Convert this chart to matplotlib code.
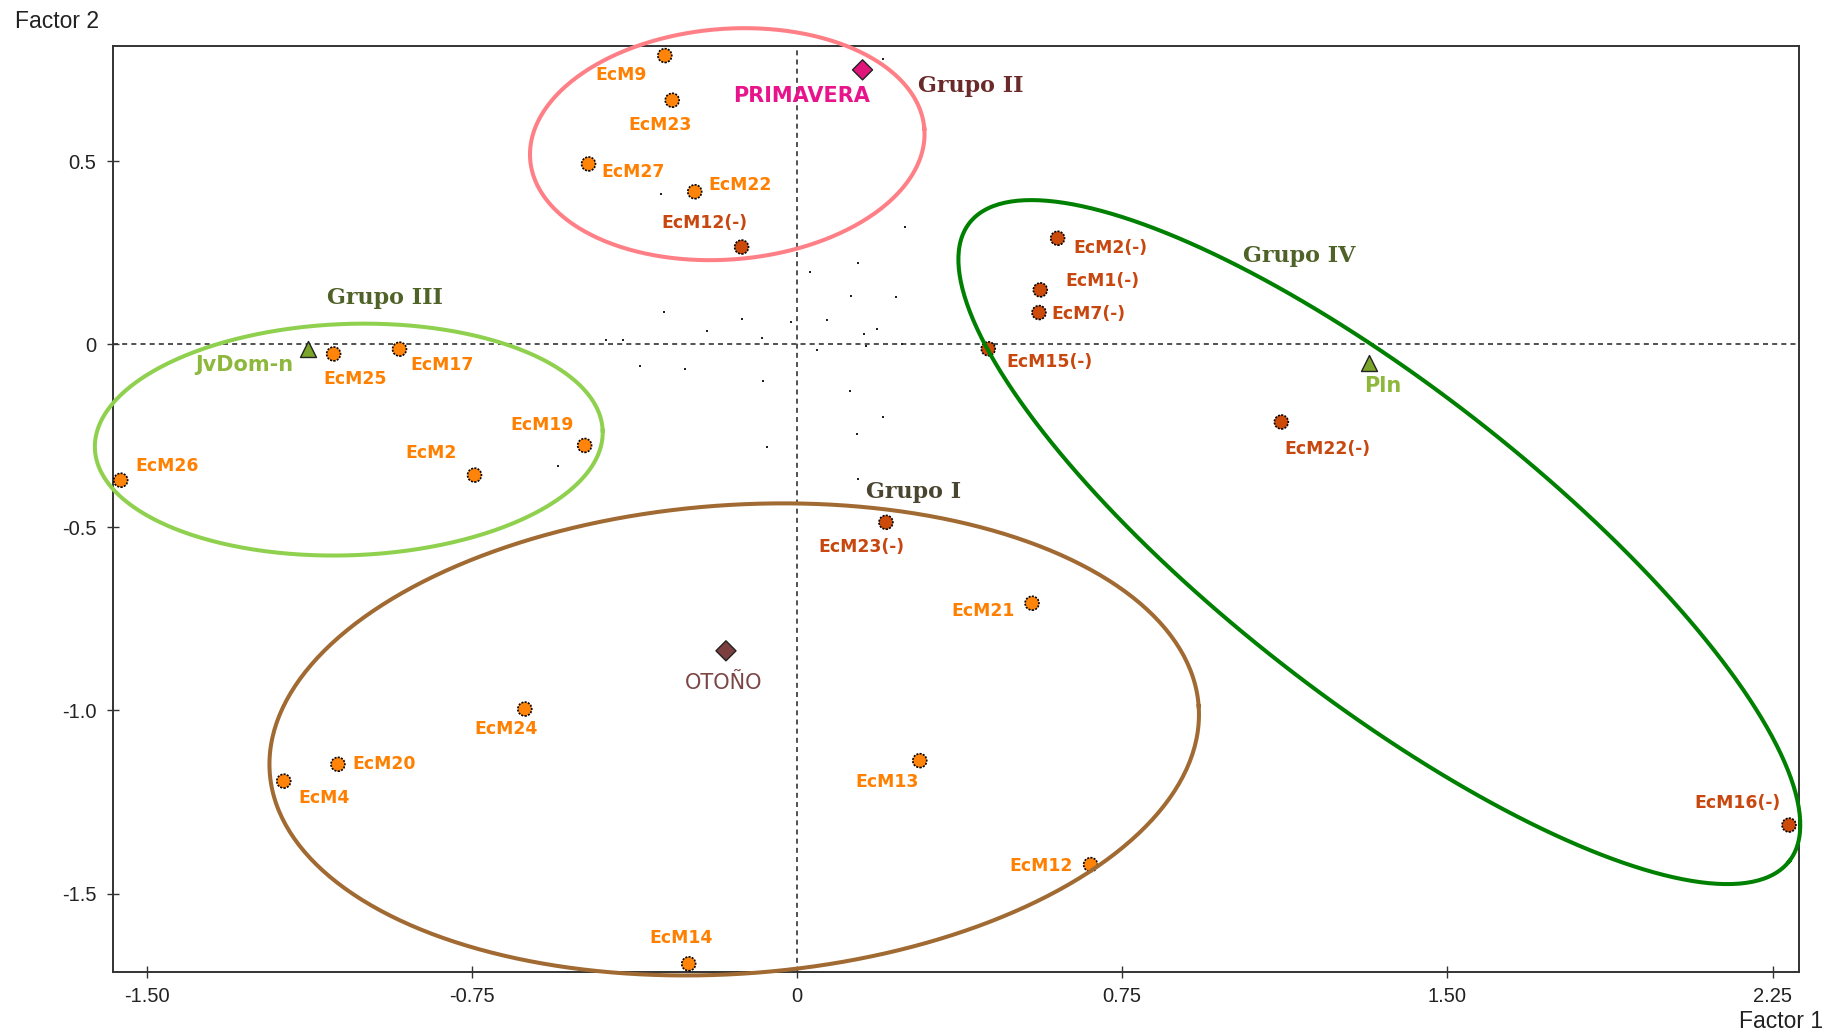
import matplotlib
matplotlib.use('Agg')
import matplotlib.pyplot as plt
import numpy as np

# EcM morphotypes: scores on factor 1 / factor 2
ecm_names = ['EcM9', 'EcM23', 'EcM27', 'EcM22', 'EcM12(-)',
             'EcM2(-)', 'EcM1(-)', 'EcM7(-)', 'EcM15(-)', 'EcM22(-)', 'EcM16(-)',
             'EcM25', 'EcM17', 'EcM19', 'EcM2', 'EcM26',
             'EcM23(-)', 'EcM21', 'EcM24', 'EcM20', 'EcM4', 'EcM13', 'EcM12', 'EcM14']
ecm_f1 = [-0.305, -0.288, -0.481, -0.236, -0.128,
          0.601, 0.561, 0.558, 0.441, 1.117, 2.288,
          -1.069, -0.917, -0.490, -0.744, -1.560,
          0.205, 0.542, -0.628, -1.059, -1.184, 0.283, 0.677, -0.250]
ecm_f2 = [0.789, 0.667, 0.493, 0.417, 0.266,
          0.290, 0.149, 0.087, -0.012, -0.212, -1.313,
          -0.026, -0.013, -0.276, -0.357, -0.371,
          -0.486, -0.707, -0.996, -1.147, -1.193, -1.137, -1.421, -1.692]

# seasons (supplementary points)
season_names = ['PRIMAVERA', 'OTOÑO']
season_f1 = [0.151, -0.164]
season_f2 = [0.750, -0.837]

# habitat types (supplementary points)
habitat_names = ['JvDom-n', 'Pln']
habitat_f1 = [-1.127, 1.320]
habitat_f2 = [-0.013, -0.051]

# unlabelled variables shown as small dots
dot_f1 = [-0.314, 0.250, 0.141, 0.030, 0.125, 0.228, -0.307, -0.126, -0.013, 0.068,
          -0.207, 0.185, 0.155, -0.082, -0.441, -0.401, 0.159, 0.242, 0.047, -0.363,
          -0.259, -0.078, 0.121, 0.198, 0.138, -0.069, -0.552, 0.141, 0.199]
dot_f2 = [0.410, 0.320, 0.222, 0.197, 0.132, 0.130, 0.089, 0.070, 0.061, 0.066,
          0.037, 0.042, 0.028, 0.018, 0.013, 0.013, -0.004, 0.002, -0.015, -0.058,
          -0.067, -0.100, -0.128, -0.199, -0.246, -0.279, -0.331, -0.368, 0.779]

xticks = [-1.5, -0.75, 0, 0.75, 1.5, 2.25]
xtick_labels = ['-1.50', '-0.75', '0', '0.75', '1.50', '2.25']
yticks = [-1.5, -1.0, -0.5, 0, 0.5]
ytick_labels = ['-1.5', '-1.0', '-0.5', '0', '0.5']

# label offsets in pixels (dx, dy) from each point
label_offsets = {
    'EcM9': (-44, -19), 'EcM23': (-12, -25), 'EcM27': (45, -8), 'EcM22': (45, 7),
    'EcM12(-)': (-37, 24), 'EcM2(-)': (53, -10), 'EcM1(-)': (62, 9), 'EcM7(-)': (49, -1),
    'EcM15(-)': (61, -13), 'EcM22(-)': (46, -27), 'EcM16(-)': (-52, 22),
    'EcM25': (22, -25), 'EcM17': (43, -16), 'EcM19': (-43, 20), 'EcM2': (-43, 22),
    'EcM26': (46, 14), 'EcM23(-)': (-25, -25), 'EcM21': (-49, -8), 'EcM24': (-19, -20),
    'EcM20': (46, 0), 'EcM4': (40, -17), 'EcM13': (-33, -21), 'EcM12': (-50, -1),
    'EcM14': (-8, 26),
    'PRIMAVERA': (-61, -26), 'OTOÑO': (-2, -32),
    'JvDom-n': (-64, -16), 'Pln': (13, -23),
}

# group ellipses: centre (f1, f2), semi-axes in factor-2 units, angle in degrees
groups = {
    'Grupo I':   dict(center=(-0.145, -1.079), a=1.272, b=0.640, angle=4.1,
                      color='#A06A32', text=(0.269, -0.402), tcolor='#4A4530'),
    'Grupo II':  dict(center=(-0.161, 0.547), a=0.540, b=0.315, angle=4.5,
                      color='#FF7F86', text=(0.400, 0.706), tcolor='#6B2A2A'),
    'Grupo III': dict(center=(-1.034, -0.260), a=0.694, b=0.316, angle=2.0,
                      color='#8FD14F', text=(-0.951, 0.126), tcolor='#4F6228'),
    'Grupo IV':  dict(center=(1.343, -0.540), a=1.419, b=0.426, angle=-37.9,
                      color='#008000', text=(1.158, 0.241), tcolor='#4F6228'),
}

W, H, DPI = 1827, 1034, 100
fig = plt.figure(figsize=(W / DPI, H / DPI), dpi=DPI)
ax = fig.add_axes([112.5 / W, 1 - 971.5 / H, (1799 - 112.5) / W, (971.5 - 45.7) / H])
ax.set_xlim(-1.579, 2.311)
ax.set_ylim(-1.713, 0.816)

for s in ax.spines.values():
    s.set_color('#333333')
    s.set_linewidth(1.4)

ax.set_xticks(xticks)
ax.set_xticklabels(xtick_labels)
ax.set_yticks(yticks)
ax.set_yticklabels(ytick_labels)
ax.tick_params(direction='inout', length=9, width=1.0, color='#333333', pad=7,
               labelsize=14.5, labelcolor='#222222')
for lbl in ax.get_xticklabels() + ax.get_yticklabels():
    lbl.set_fontfamily('Liberation Sans')

ax.axhline(0, color='#333333', lw=1.2, ls=(0, (3, 2.5)), zorder=1)
ax.axvline(0, color='#333333', lw=1.2, ls=(0, (3, 2.5)), zorder=1)

# aspect ratio between axes (pixels per unit) so ellipses are drawn in screen space
fig.canvas.draw()
bb = ax.get_window_extent()
kx = bb.width / (ax.get_xlim()[1] - ax.get_xlim()[0])
ky = bb.height / (ax.get_ylim()[1] - ax.get_ylim()[0])
ratio = ky / kx

t = np.linspace(0, 2 * np.pi, 400)
for name, g in groups.items():
    th = np.radians(g['angle'])
    u = g['a'] * np.cos(t)
    v = g['b'] * np.sin(t)
    ex = g['center'][0] + (u * np.cos(th) - v * np.sin(th)) * ratio
    ey = g['center'][1] + (u * np.sin(th) + v * np.cos(th))
    ax.plot(ex, ey, color=g['color'], lw=2.9, zorder=4, clip_on=False)
    ax.text(g['text'][0], g['text'][1], name, ha='center', va='center',
            fontsize=16, fontweight='bold', family='DejaVu Serif',
            color=g['tcolor'], zorder=6)

ax.scatter(dot_f1, dot_f2, s=2.5, marker='s', color='#222222', linewidths=0, zorder=2)

neg = [n.endswith('(-)') for n in ecm_names]
face = ['#CC4A0A' if ng else '#FF8409' for ng in neg]
ax.scatter(ecm_f1, ecm_f2, s=10 ** 2, c=face, edgecolors='black', linewidths=1.2,
           linestyle=(0, (1.2, 0.8)), zorder=3, clip_on=False)
for name, x, y, ng in zip(ecm_names, ecm_f1, ecm_f2, neg):
    ax.annotate(name, (x, y), xytext=label_offsets[name], textcoords='offset pixels',
                ha='center', va='center', fontsize=12.4, fontweight='bold',
                color='#C8470F' if ng else '#FF8000', zorder=6)

season_colors = ['#E0157A', '#7B3F3F']
season_text = ['#E8148C', '#7D4646']
ax.scatter(season_f1, season_f2, s=10.2 ** 2, marker='D', c=season_colors,
           edgecolors='#222222', linewidths=1.0, zorder=5)
for name, x, y, tc in zip(season_names, season_f1, season_f2, season_text):
    ax.annotate(name, (x, y), xytext=label_offsets[name], textcoords='offset pixels',
                ha='center', va='center', fontsize=15,
                fontweight='bold' if name == 'PRIMAVERA' else 'normal',
                color=tc, zorder=6)

ax.scatter(habitat_f1, habitat_f2, s=11.5 ** 2, marker='^', c='#7AA52A',
           edgecolors='#222222', linewidths=1.0, zorder=5)
for name, x, y in zip(habitat_names, habitat_f1, habitat_f2):
    ax.annotate(name, (x, y), xytext=label_offsets[name], textcoords='offset pixels',
                ha='center', va='center', fontsize=15, fontweight='bold',
                color='#8DB83C', zorder=6)

fig.text(57 / W, 1 - 21.5 / H, 'Factor 2', ha='center', va='center',
         fontsize=16.5, family='Liberation Sans', color='#222222')
fig.text(1781 / W, 1 - 1022 / H, 'Factor 1', ha='center', va='center',
         fontsize=16.5, family='Liberation Sans', color='#222222')

fig.savefig('out.png', dpi=DPI)
